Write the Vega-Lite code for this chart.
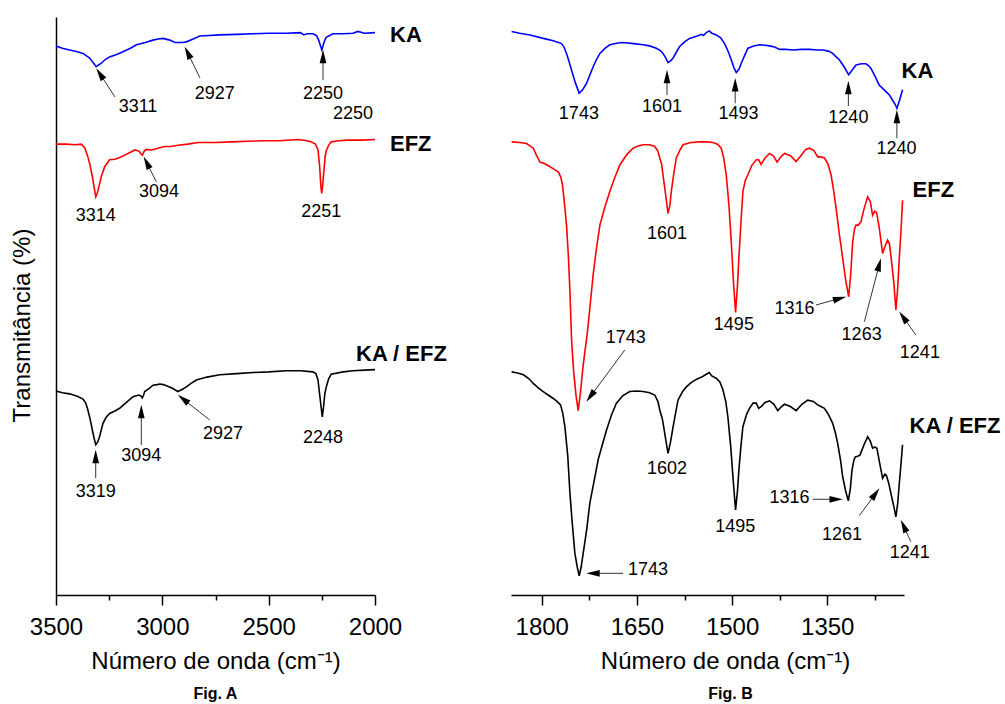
{
  "$schema": "https://vega.github.io/schema/vega-lite/v6.json",
  "autosize": {"type": "pad"},
  "padding": {"left": 10, "top": 17, "right": 0, "bottom": 0},
  "background": "white",
  "config": {
    "view": {"stroke": null},
    "font": "Liberation Sans",
    "axis": {"domainColor": "#000", "tickColor": "#000", "labelColor": "#000", "titleColor": "#000", "domainWidth": 1.5, "tickWidth": 1.5, "grid": false, "labelFont": "Liberation Sans", "titleFont": "Liberation Sans", "titleFontWeight": "normal"},
    "title": {"font": "Liberation Sans", "color": "#000"}
  },
  "spacing": 136,
  "bounds": "flush",
  "datasets": {
    "specA": [
      {"series":"KA","wn":3500,"t":95.0},{"series":"KA","wn":3470,"t":94.6},{"series":"KA","wn":3436,"t":94.3},{"series":"KA","wn":3400,"t":94.0},{"series":"KA","wn":3373,"t":93.7},{"series":"KA","wn":3342,"t":92.9},{"series":"KA","wn":3325,"t":92.1},{"series":"KA","wn":3311,"t":91.4},{"series":"KA","wn":3300,"t":91.7},{"series":"KA","wn":3287,"t":92.0},{"series":"KA","wn":3270,"t":92.6},{"series":"KA","wn":3248,"t":93.1},{"series":"KA","wn":3215,"t":93.5},{"series":"KA","wn":3185,"t":94.0},{"series":"KA","wn":3150,"t":94.6},{"series":"KA","wn":3122,"t":95.2},{"series":"KA","wn":3080,"t":95.6},{"series":"KA","wn":3044,"t":96.0},{"series":"KA","wn":3020,"t":96.2},{"series":"KA","wn":2997,"t":96.3},{"series":"KA","wn":2965,"t":96.0},{"series":"KA","wn":2940,"t":95.6},{"series":"KA","wn":2927,"t":95.6},{"series":"KA","wn":2905,"t":95.6},{"series":"KA","wn":2887,"t":95.7},{"series":"KA","wn":2855,"t":96.2},{"series":"KA","wn":2824,"t":96.7},{"series":"KA","wn":2780,"t":96.8},{"series":"KA","wn":2730,"t":96.9},{"series":"KA","wn":2650,"t":97.0},{"series":"KA","wn":2574,"t":97.1},{"series":"KA","wn":2500,"t":97.2},{"series":"KA","wn":2417,"t":97.2},{"series":"KA","wn":2350,"t":97.3},{"series":"KA","wn":2335,"t":96.9},{"series":"KA","wn":2320,"t":97.1},{"series":"KA","wn":2292,"t":97.1},{"series":"KA","wn":2275,"t":96.8},{"series":"KA","wn":2265,"t":96.0},{"series":"KA","wn":2258,"t":95.2},{"series":"KA","wn":2250,"t":94.3},{"series":"KA","wn":2243,"t":95.2},{"series":"KA","wn":2236,"t":96.0},{"series":"KA","wn":2229,"t":96.5},{"series":"KA","wn":2198,"t":97.1},{"series":"KA","wn":2150,"t":97.1},{"series":"KA","wn":2104,"t":97.2},{"series":"KA","wn":2080,"t":97.5},{"series":"KA","wn":2050,"t":97.2},{"series":"KA","wn":2000,"t":97.3},
      {"series":"EFZ","wn":3500,"t":78.0},{"series":"EFZ","wn":3450,"t":78.0},{"series":"EFZ","wn":3410,"t":77.9},{"series":"EFZ","wn":3381,"t":78.0},{"series":"EFZ","wn":3365,"t":77.4},{"series":"EFZ","wn":3350,"t":75.8},{"series":"EFZ","wn":3340,"t":74.4},{"series":"EFZ","wn":3329,"t":72.4},{"series":"EFZ","wn":3320,"t":70.4},{"series":"EFZ","wn":3313,"t":68.9},{"series":"EFZ","wn":3306,"t":69.5},{"series":"EFZ","wn":3300,"t":70.4},{"series":"EFZ","wn":3287,"t":72.4},{"series":"EFZ","wn":3271,"t":74.1},{"series":"EFZ","wn":3248,"t":75.3},{"series":"EFZ","wn":3224,"t":75.4},{"series":"EFZ","wn":3200,"t":75.7},{"series":"EFZ","wn":3177,"t":76.1},{"series":"EFZ","wn":3150,"t":76.6},{"series":"EFZ","wn":3130,"t":77.0},{"series":"EFZ","wn":3110,"t":76.8},{"series":"EFZ","wn":3100,"t":76.3},{"series":"EFZ","wn":3094,"t":76.1},{"series":"EFZ","wn":3085,"t":76.8},{"series":"EFZ","wn":3075,"t":77.1},{"series":"EFZ","wn":3050,"t":77.0},{"series":"EFZ","wn":3020,"t":77.3},{"series":"EFZ","wn":2989,"t":77.6},{"series":"EFZ","wn":2960,"t":77.6},{"series":"EFZ","wn":2926,"t":77.8},{"series":"EFZ","wn":2880,"t":78.0},{"series":"EFZ","wn":2832,"t":78.3},{"series":"EFZ","wn":2750,"t":78.3},{"series":"EFZ","wn":2676,"t":78.4},{"series":"EFZ","wn":2600,"t":78.5},{"series":"EFZ","wn":2519,"t":78.6},{"series":"EFZ","wn":2450,"t":78.6},{"series":"EFZ","wn":2362,"t":78.8},{"series":"EFZ","wn":2320,"t":78.6},{"series":"EFZ","wn":2300,"t":78.4},{"series":"EFZ","wn":2280,"t":78.0},{"series":"EFZ","wn":2268,"t":77.0},{"series":"EFZ","wn":2260,"t":74.0},{"series":"EFZ","wn":2255,"t":71.0},{"series":"EFZ","wn":2251,"t":69.5},{"series":"EFZ","wn":2247,"t":70.5},{"series":"EFZ","wn":2240,"t":73.5},{"series":"EFZ","wn":2234,"t":76.0},{"series":"EFZ","wn":2229,"t":76.9},{"series":"EFZ","wn":2218,"t":77.8},{"series":"EFZ","wn":2206,"t":78.4},{"series":"EFZ","wn":2170,"t":78.6},{"series":"EFZ","wn":2127,"t":78.7},{"series":"EFZ","wn":2060,"t":78.7},{"series":"EFZ","wn":2000,"t":78.8},
      {"series":"KA / EFZ","wn":3500,"t":35.3},{"series":"KA / EFZ","wn":3470,"t":35.0},{"series":"KA / EFZ","wn":3436,"t":34.8},{"series":"KA / EFZ","wn":3400,"t":34.4},{"series":"KA / EFZ","wn":3373,"t":33.9},{"series":"KA / EFZ","wn":3360,"t":33.2},{"series":"KA / EFZ","wn":3350,"t":32.0},{"series":"KA / EFZ","wn":3340,"t":30.5},{"series":"KA / EFZ","wn":3329,"t":28.5},{"series":"KA / EFZ","wn":3320,"t":27.0},{"series":"KA / EFZ","wn":3313,"t":26.0},{"series":"KA / EFZ","wn":3305,"t":26.4},{"series":"KA / EFZ","wn":3295,"t":27.4},{"series":"KA / EFZ","wn":3287,"t":28.6},{"series":"KA / EFZ","wn":3279,"t":29.7},{"series":"KA / EFZ","wn":3265,"t":30.7},{"series":"KA / EFZ","wn":3248,"t":31.4},{"series":"KA / EFZ","wn":3225,"t":31.8},{"series":"KA / EFZ","wn":3201,"t":32.3},{"series":"KA / EFZ","wn":3170,"t":33.3},{"series":"KA / EFZ","wn":3138,"t":34.3},{"series":"KA / EFZ","wn":3110,"t":34.6},{"series":"KA / EFZ","wn":3100,"t":34.4},{"series":"KA / EFZ","wn":3094,"t":34.1},{"series":"KA / EFZ","wn":3088,"t":34.6},{"series":"KA / EFZ","wn":3083,"t":35.2},{"series":"KA / EFZ","wn":3060,"t":35.8},{"series":"KA / EFZ","wn":3044,"t":36.3},{"series":"KA / EFZ","wn":3025,"t":36.4},{"series":"KA / EFZ","wn":3012,"t":36.5},{"series":"KA / EFZ","wn":2995,"t":36.4},{"series":"KA / EFZ","wn":2981,"t":36.2},{"series":"KA / EFZ","wn":2955,"t":35.8},{"series":"KA / EFZ","wn":2927,"t":35.2},{"series":"KA / EFZ","wn":2905,"t":35.6},{"series":"KA / EFZ","wn":2887,"t":36.0},{"series":"KA / EFZ","wn":2865,"t":36.6},{"series":"KA / EFZ","wn":2840,"t":37.2},{"series":"KA / EFZ","wn":2790,"t":37.7},{"series":"KA / EFZ","wn":2730,"t":38.1},{"series":"KA / EFZ","wn":2650,"t":38.3},{"series":"KA / EFZ","wn":2574,"t":38.5},{"series":"KA / EFZ","wn":2500,"t":38.6},{"series":"KA / EFZ","wn":2417,"t":38.8},{"series":"KA / EFZ","wn":2350,"t":38.8},{"series":"KA / EFZ","wn":2292,"t":38.6},{"series":"KA / EFZ","wn":2278,"t":38.3},{"series":"KA / EFZ","wn":2268,"t":37.2},{"series":"KA / EFZ","wn":2258,"t":34.0},{"series":"KA / EFZ","wn":2248,"t":30.8},{"series":"KA / EFZ","wn":2242,"t":32.5},{"series":"KA / EFZ","wn":2236,"t":34.8},{"series":"KA / EFZ","wn":2229,"t":36.0},{"series":"KA / EFZ","wn":2218,"t":37.4},{"series":"KA / EFZ","wn":2206,"t":38.2},{"series":"KA / EFZ","wn":2150,"t":38.6},{"series":"KA / EFZ","wn":2104,"t":38.8},{"series":"KA / EFZ","wn":2050,"t":38.9},{"series":"KA / EFZ","wn":2000,"t":39.0}
    ],
    "specB": [
      {"series":"KA","wn":1847.5,"t":97.5},{"series":"KA","wn":1835,"t":97.2},{"series":"KA","wn":1818.6,"t":96.9},{"series":"KA","wn":1797.7,"t":96.3},{"series":"KA","wn":1781.9,"t":95.9},{"series":"KA","wn":1768.8,"t":95.4},{"series":"KA","wn":1765,"t":94.8},{"series":"KA","wn":1761,"t":93.7},{"series":"KA","wn":1757,"t":92.3},{"series":"KA","wn":1753,"t":90.8},{"series":"KA","wn":1747,"t":88.6},{"series":"KA","wn":1741,"t":86.8},{"series":"KA","wn":1735,"t":87.5},{"series":"KA","wn":1729.5,"t":88.5},{"series":"KA","wn":1724,"t":90.0},{"series":"KA","wn":1719,"t":91.4},{"series":"KA","wn":1714,"t":92.6},{"series":"KA","wn":1708.4,"t":93.7},{"series":"KA","wn":1700,"t":94.6},{"series":"KA","wn":1692.7,"t":95.2},{"series":"KA","wn":1680,"t":95.5},{"series":"KA","wn":1671.8,"t":95.6},{"series":"KA","wn":1655,"t":95.4},{"series":"KA","wn":1640.3,"t":95.2},{"series":"KA","wn":1630,"t":95.0},{"series":"KA","wn":1619.4,"t":94.6},{"series":"KA","wn":1613,"t":94.2},{"series":"KA","wn":1608.9,"t":93.7},{"series":"KA","wn":1604,"t":92.8},{"series":"KA","wn":1601,"t":92.1},{"series":"KA","wn":1597,"t":92.4},{"series":"KA","wn":1593,"t":92.9},{"series":"KA","wn":1588,"t":93.9},{"series":"KA","wn":1582.6,"t":94.9},{"series":"KA","wn":1575,"t":95.7},{"series":"KA","wn":1566.9,"t":96.3},{"series":"KA","wn":1555,"t":96.7},{"series":"KA","wn":1548,"t":97.0},{"series":"KA","wn":1545,"t":96.8},{"series":"KA","wn":1540.7,"t":97.3},{"series":"KA","wn":1536,"t":97.6},{"series":"KA","wn":1532,"t":97.2},{"series":"KA","wn":1525,"t":96.9},{"series":"KA","wn":1518,"t":96.4},{"series":"KA","wn":1511.8,"t":95.4},{"series":"KA","wn":1506,"t":94.0},{"series":"KA","wn":1501.3,"t":92.6},{"series":"KA","wn":1497,"t":91.2},{"series":"KA","wn":1493.4,"t":90.4},{"series":"KA","wn":1489,"t":91.0},{"series":"KA","wn":1485.5,"t":92.0},{"series":"KA","wn":1480,"t":93.4},{"series":"KA","wn":1475,"t":94.6},{"series":"KA","wn":1466,"t":95.0},{"series":"KA","wn":1456.7,"t":95.2},{"series":"KA","wn":1448,"t":95.1},{"series":"KA","wn":1441,"t":95.0},{"series":"KA","wn":1433,"t":94.8},{"series":"KA","wn":1425.2,"t":94.4},{"series":"KA","wn":1415,"t":94.4},{"series":"KA","wn":1404.3,"t":94.3},{"series":"KA","wn":1390,"t":94.4},{"series":"KA","wn":1378,"t":94.4},{"series":"KA","wn":1365,"t":94.3},{"series":"KA","wn":1357.1,"t":94.3},{"series":"KA","wn":1348,"t":94.1},{"series":"KA","wn":1341.4,"t":93.7},{"series":"KA","wn":1336,"t":93.1},{"series":"KA","wn":1330.9,"t":92.6},{"series":"KA","wn":1323,"t":91.3},{"series":"KA","wn":1316.2,"t":90.0},{"series":"KA","wn":1310,"t":90.9},{"series":"KA","wn":1304.7,"t":91.7},{"series":"KA","wn":1296,"t":91.9},{"series":"KA","wn":1289,"t":91.9},{"series":"KA","wn":1285,"t":91.6},{"series":"KA","wn":1281,"t":91.1},{"series":"KA","wn":1275,"t":89.8},{"series":"KA","wn":1268,"t":88.2},{"series":"KA","wn":1263,"t":87.7},{"series":"KA","wn":1257.5,"t":87.1},{"series":"KA","wn":1252,"t":86.5},{"series":"KA","wn":1247,"t":85.6},{"series":"KA","wn":1243,"t":84.9},{"series":"KA","wn":1240.2,"t":84.2},{"series":"KA","wn":1236,"t":85.6},{"series":"KA","wn":1231.3,"t":87.4},
      {"series":"EFZ","wn":1847.5,"t":78.4},{"series":"EFZ","wn":1835,"t":78.3},{"series":"EFZ","wn":1824,"t":78.1},{"series":"EFZ","wn":1813.4,"t":77.3},{"series":"EFZ","wn":1808,"t":76.0},{"series":"EFZ","wn":1802.8,"t":74.9},{"series":"EFZ","wn":1795,"t":74.6},{"series":"EFZ","wn":1787,"t":74.1},{"series":"EFZ","wn":1780,"t":73.6},{"series":"EFZ","wn":1774,"t":73.2},{"series":"EFZ","wn":1770,"t":72.3},{"series":"EFZ","wn":1767.3,"t":70.9},{"series":"EFZ","wn":1764,"t":67.5},{"series":"EFZ","wn":1761,"t":64.0},{"series":"EFZ","wn":1758,"t":58.5},{"series":"EFZ","wn":1755.6,"t":52.5},{"series":"EFZ","wn":1753,"t":44.1},{"series":"EFZ","wn":1750,"t":39.0},{"series":"EFZ","wn":1746,"t":34.5},{"series":"EFZ","wn":1742.6,"t":31.9},{"series":"EFZ","wn":1739,"t":35.0},{"series":"EFZ","wn":1735,"t":39.5},{"series":"EFZ","wn":1731,"t":43.0},{"series":"EFZ","wn":1729.5,"t":44.1},{"series":"EFZ","wn":1726.9,"t":46.7},{"series":"EFZ","wn":1723,"t":51.0},{"series":"EFZ","wn":1719,"t":55.4},{"series":"EFZ","wn":1714,"t":59.8},{"series":"EFZ","wn":1708.4,"t":64.0},{"series":"EFZ","wn":1700,"t":67.3},{"series":"EFZ","wn":1692.7,"t":69.8},{"series":"EFZ","wn":1685,"t":72.2},{"series":"EFZ","wn":1677,"t":74.4},{"series":"EFZ","wn":1666,"t":76.2},{"series":"EFZ","wn":1656,"t":77.3},{"series":"EFZ","wn":1648,"t":77.7},{"series":"EFZ","wn":1640.3,"t":77.9},{"series":"EFZ","wn":1630,"t":77.9},{"series":"EFZ","wn":1621.9,"t":77.6},{"series":"EFZ","wn":1617,"t":76.8},{"series":"EFZ","wn":1614,"t":75.6},{"series":"EFZ","wn":1611,"t":74.5},{"series":"EFZ","wn":1608.9,"t":72.7},{"series":"EFZ","wn":1605,"t":69.5},{"series":"EFZ","wn":1601,"t":66.0},{"series":"EFZ","wn":1598,"t":67.5},{"series":"EFZ","wn":1595.8,"t":69.8},{"series":"EFZ","wn":1592,"t":72.8},{"series":"EFZ","wn":1588,"t":75.6},{"series":"EFZ","wn":1582,"t":77.0},{"series":"EFZ","wn":1577.4,"t":77.9},{"series":"EFZ","wn":1565,"t":78.3},{"series":"EFZ","wn":1551.2,"t":78.4},{"series":"EFZ","wn":1540,"t":78.4},{"series":"EFZ","wn":1530.2,"t":78.3},{"series":"EFZ","wn":1523,"t":78.0},{"series":"EFZ","wn":1517.1,"t":77.3},{"series":"EFZ","wn":1513,"t":75.5},{"series":"EFZ","wn":1509.2,"t":72.7},{"series":"EFZ","wn":1505,"t":67.5},{"series":"EFZ","wn":1501.3,"t":61.1},{"series":"EFZ","wn":1498,"t":54.5},{"series":"EFZ","wn":1494.5,"t":48.9},{"series":"EFZ","wn":1491.5,"t":53.5},{"series":"EFZ","wn":1489.3,"t":58.3},{"series":"EFZ","wn":1486,"t":64.5},{"series":"EFZ","wn":1483,"t":69.8},{"series":"EFZ","wn":1479,"t":71.8},{"series":"EFZ","wn":1475,"t":72.7},{"series":"EFZ","wn":1469,"t":74.3},{"series":"EFZ","wn":1462,"t":75.3},{"series":"EFZ","wn":1458,"t":75.3},{"series":"EFZ","wn":1454.2,"t":74.5},{"series":"EFZ","wn":1448,"t":75.6},{"series":"EFZ","wn":1441,"t":76.4},{"series":"EFZ","wn":1435,"t":76.0},{"series":"EFZ","wn":1429,"t":74.9},{"series":"EFZ","wn":1423,"t":75.8},{"series":"EFZ","wn":1417.4,"t":76.4},{"series":"EFZ","wn":1408,"t":76.0},{"series":"EFZ","wn":1399,"t":75.0},{"series":"EFZ","wn":1390,"t":76.2},{"series":"EFZ","wn":1384,"t":77.1},{"series":"EFZ","wn":1378,"t":77.3},{"series":"EFZ","wn":1371,"t":76.9},{"series":"EFZ","wn":1365,"t":75.8},{"series":"EFZ","wn":1360,"t":75.8},{"series":"EFZ","wn":1354.5,"t":75.6},{"series":"EFZ","wn":1349,"t":74.6},{"series":"EFZ","wn":1344,"t":72.7},{"series":"EFZ","wn":1340,"t":70.0},{"series":"EFZ","wn":1336,"t":66.9},{"series":"EFZ","wn":1331,"t":62.5},{"series":"EFZ","wn":1325.7,"t":58.3},{"series":"EFZ","wn":1321,"t":54.5},{"series":"EFZ","wn":1316.2,"t":51.6},{"series":"EFZ","wn":1313,"t":55.5},{"series":"EFZ","wn":1309.9,"t":61.1},{"series":"EFZ","wn":1307,"t":63.3},{"series":"EFZ","wn":1304.7,"t":64.0},{"series":"EFZ","wn":1301,"t":64.0},{"series":"EFZ","wn":1296.8,"t":64.6},{"series":"EFZ","wn":1292,"t":66.8},{"series":"EFZ","wn":1286.3,"t":68.9},{"series":"EFZ","wn":1282,"t":68.0},{"series":"EFZ","wn":1278.5,"t":65.7},{"series":"EFZ","wn":1275,"t":66.4},{"series":"EFZ","wn":1272.2,"t":66.2},{"series":"EFZ","wn":1268,"t":63.5},{"series":"EFZ","wn":1262.7,"t":59.1},{"series":"EFZ","wn":1259,"t":60.3},{"series":"EFZ","wn":1255,"t":61.4},{"series":"EFZ","wn":1252,"t":60.8},{"series":"EFZ","wn":1249.7,"t":58.8},{"series":"EFZ","wn":1245,"t":54.0},{"series":"EFZ","wn":1241.8,"t":49.3},{"series":"EFZ","wn":1239,"t":53.0},{"series":"EFZ","wn":1236.4,"t":58.3},{"series":"EFZ","wn":1233.5,"t":63.5},{"series":"EFZ","wn":1231.3,"t":68.3},
      {"series":"KA / EFZ","wn":1847.5,"t":38.6},{"series":"KA / EFZ","wn":1838,"t":38.4},{"series":"KA / EFZ","wn":1829,"t":38.1},{"series":"KA / EFZ","wn":1820,"t":37.4},{"series":"KA / EFZ","wn":1813.4,"t":36.6},{"series":"KA / EFZ","wn":1805,"t":35.8},{"series":"KA / EFZ","wn":1797.7,"t":35.2},{"series":"KA / EFZ","wn":1790,"t":34.6},{"series":"KA / EFZ","wn":1781.9,"t":34.0},{"series":"KA / EFZ","wn":1776,"t":33.5},{"series":"KA / EFZ","wn":1770.4,"t":32.9},{"series":"KA / EFZ","wn":1767,"t":31.5},{"series":"KA / EFZ","wn":1763.5,"t":29.1},{"series":"KA / EFZ","wn":1759,"t":24.0},{"series":"KA / EFZ","wn":1755.6,"t":17.6},{"series":"KA / EFZ","wn":1752,"t":12.5},{"series":"KA / EFZ","wn":1747.8,"t":7.2},{"series":"KA / EFZ","wn":1744,"t":4.8},{"series":"KA / EFZ","wn":1741,"t":3.3},{"series":"KA / EFZ","wn":1738,"t":4.8},{"series":"KA / EFZ","wn":1734.7,"t":7.2},{"series":"KA / EFZ","wn":1729,"t":11.5},{"series":"KA / EFZ","wn":1724.2,"t":15.9},{"series":"KA / EFZ","wn":1717,"t":20.0},{"series":"KA / EFZ","wn":1711.1,"t":23.4},{"series":"KA / EFZ","wn":1704,"t":26.2},{"series":"KA / EFZ","wn":1698,"t":28.5},{"series":"KA / EFZ","wn":1690,"t":31.2},{"series":"KA / EFZ","wn":1682.3,"t":33.2},{"series":"KA / EFZ","wn":1672,"t":34.5},{"series":"KA / EFZ","wn":1661.3,"t":35.2},{"series":"KA / EFZ","wn":1650,"t":35.3},{"series":"KA / EFZ","wn":1640.3,"t":35.2},{"series":"KA / EFZ","wn":1630,"t":35.0},{"series":"KA / EFZ","wn":1621.9,"t":34.6},{"series":"KA / EFZ","wn":1617,"t":33.5},{"series":"KA / EFZ","wn":1614,"t":32.0},{"series":"KA / EFZ","wn":1610,"t":30.5},{"series":"KA / EFZ","wn":1607.8,"t":29.1},{"series":"KA / EFZ","wn":1604,"t":26.5},{"series":"KA / EFZ","wn":1601,"t":24.5},{"series":"KA / EFZ","wn":1597,"t":26.5},{"series":"KA / EFZ","wn":1593,"t":29.1},{"series":"KA / EFZ","wn":1589,"t":31.5},{"series":"KA / EFZ","wn":1585.3,"t":33.7},{"series":"KA / EFZ","wn":1578,"t":35.2},{"series":"KA / EFZ","wn":1572.2,"t":36.0},{"series":"KA / EFZ","wn":1564,"t":36.8},{"series":"KA / EFZ","wn":1556.5,"t":37.3},{"series":"KA / EFZ","wn":1548,"t":37.7},{"series":"KA / EFZ","wn":1540.7,"t":38.2},{"series":"KA / EFZ","wn":1536,"t":38.5},{"series":"KA / EFZ","wn":1532,"t":37.9},{"series":"KA / EFZ","wn":1525,"t":37.5},{"series":"KA / EFZ","wn":1519,"t":36.8},{"series":"KA / EFZ","wn":1514.5,"t":35.5},{"series":"KA / EFZ","wn":1510,"t":33.5},{"series":"KA / EFZ","wn":1506.6,"t":30.8},{"series":"KA / EFZ","wn":1502,"t":25.5},{"series":"KA / EFZ","wn":1498.7,"t":20.5},{"series":"KA / EFZ","wn":1494.5,"t":14.7},{"series":"KA / EFZ","wn":1491.5,"t":18.0},{"series":"KA / EFZ","wn":1489.3,"t":21.6},{"series":"KA / EFZ","wn":1486,"t":25.8},{"series":"KA / EFZ","wn":1483,"t":29.1},{"series":"KA / EFZ","wn":1477,"t":31.3},{"series":"KA / EFZ","wn":1472.5,"t":32.3},{"series":"KA / EFZ","wn":1467,"t":33.2},{"series":"KA / EFZ","wn":1462,"t":33.2},{"series":"KA / EFZ","wn":1458,"t":32.3},{"series":"KA / EFZ","wn":1454.2,"t":32.6},{"series":"KA / EFZ","wn":1448,"t":33.3},{"series":"KA / EFZ","wn":1441,"t":33.6},{"series":"KA / EFZ","wn":1434,"t":33.0},{"series":"KA / EFZ","wn":1428,"t":31.9},{"series":"KA / EFZ","wn":1422,"t":32.6},{"series":"KA / EFZ","wn":1417.4,"t":33.0},{"series":"KA / EFZ","wn":1408,"t":32.6},{"series":"KA / EFZ","wn":1399,"t":31.9},{"series":"KA / EFZ","wn":1390,"t":33.0},{"series":"KA / EFZ","wn":1380.7,"t":33.7},{"series":"KA / EFZ","wn":1372,"t":33.5},{"series":"KA / EFZ","wn":1365,"t":32.9},{"series":"KA / EFZ","wn":1360,"t":32.6},{"series":"KA / EFZ","wn":1354.5,"t":32.3},{"series":"KA / EFZ","wn":1348,"t":31.2},{"series":"KA / EFZ","wn":1341.4,"t":29.7},{"series":"KA / EFZ","wn":1337,"t":28.0},{"series":"KA / EFZ","wn":1333.5,"t":26.2},{"series":"KA / EFZ","wn":1329,"t":23.3},{"series":"KA / EFZ","wn":1325.7,"t":20.5},{"series":"KA / EFZ","wn":1321,"t":18.0},{"series":"KA / EFZ","wn":1316.7,"t":16.3},{"series":"KA / EFZ","wn":1313.5,"t":18.5},{"series":"KA / EFZ","wn":1311,"t":21.6},{"series":"KA / EFZ","wn":1308,"t":23.3},{"series":"KA / EFZ","wn":1305.8,"t":23.9},{"series":"KA / EFZ","wn":1302,"t":24.0},{"series":"KA / EFZ","wn":1298.4,"t":24.2},{"series":"KA / EFZ","wn":1292,"t":26.0},{"series":"KA / EFZ","wn":1286.3,"t":27.4},{"series":"KA / EFZ","wn":1282,"t":26.6},{"series":"KA / EFZ","wn":1278.5,"t":25.4},{"series":"KA / EFZ","wn":1275,"t":25.6},{"series":"KA / EFZ","wn":1271.7,"t":25.4},{"series":"KA / EFZ","wn":1267,"t":22.6},{"series":"KA / EFZ","wn":1262.7,"t":20.2},{"series":"KA / EFZ","wn":1259,"t":20.9},{"series":"KA / EFZ","wn":1256.4,"t":20.6},{"series":"KA / EFZ","wn":1253,"t":19.3},{"series":"KA / EFZ","wn":1249.7,"t":17.6},{"series":"KA / EFZ","wn":1245,"t":15.3},{"series":"KA / EFZ","wn":1241.8,"t":13.5},{"series":"KA / EFZ","wn":1239,"t":15.8},{"series":"KA / EFZ","wn":1236.4,"t":19.3},{"series":"KA / EFZ","wn":1233.5,"t":23.0},{"series":"KA / EFZ","wn":1231.3,"t":26.0}
    ],
    "labA": [
      {"wn":3114.4,"t":84.4,"label":"3311"},{"wn":2753.8,"t":86.7,"label":"2927"},{"wn":2244.5,"t":86.7,"label":"2250"},{"wn":2103.5,"t":83.2,"label":"2250"},
      {"wn":3313.3,"t":65.6,"label":"3314"},{"wn":3015.7,"t":69.7,"label":"3094"},{"wn":2252.5,"t":66.3,"label":"2251"},
      {"wn":3313.3,"t":17.9,"label":"3319"},{"wn":3098.9,"t":24.0,"label":"3094"},{"wn":2714.7,"t":27.8,"label":"2927"},{"wn":2244.5,"t":27.1,"label":"2248"}
    ],
    "arrA": [
      {"x0":3222.6,"y0":86.16,"x1":3293.8,"y1":90.18,"angle":-33.1},
      {"x0":2822.9,"y0":89.45,"x1":2881.4,"y1":93.85,"angle":-26.1},
      {"x0":2244.5,"y0":89.1,"x1":2244.5,"y1":93.17,"angle":0},
      {"x0":3028.4,"y0":71.5,"x1":3073.8,"y1":74.83,"angle":-26.7},
      {"x0":3313.3,"y0":20.19,"x1":3313.3,"y1":23.96,"angle":0},
      {"x0":3098.9,"y0":25.95,"x1":3098.9,"y1":31.75,"angle":0},
      {"x0":2777.3,"y0":30.28,"x1":2902.4,"y1":33.91,"angle":-51.7}
    ],
    "serA": [
      {"wn":1929.5,"t":96.9,"label":"KA"},{"wn":1929.5,"t":78.0,"label":"EFZ"},{"wn":2089.4,"t":41.7,"label":"KA / EFZ"}
    ],
    "labB": [
      {"wn":1741.5,"t":83.2,"label":"1743"},{"wn":1610.4,"t":84.5,"label":"1601"},{"wn":1489.8,"t":83.2,"label":"1493"},{"wn":1316.7,"t":82.6,"label":"1240"},{"wn":1240.7,"t":77.1,"label":"1240"},
      {"wn":1602.6,"t":62.4,"label":"1601"},{"wn":1497.2,"t":46.7,"label":"1495"},{"wn":1401.6,"t":49.4,"label":"1316"},{"wn":1295.8,"t":45.0,"label":"1263"},{"wn":1204,"t":41.8,"label":"1241"},{"wn":1667.5,"t":44.4,"label":"1743"},
      {"wn":1602.6,"t":21.8,"label":"1602"},{"wn":1495.1,"t":11.8,"label":"1495"},{"wn":1409.5,"t":16.7,"label":"1316"},{"wn":1326.8,"t":10.3,"label":"1261"},{"wn":1219.8,"t":7.2,"label":"1241"},{"wn":1632.5,"t":4.3,"label":"1743"}
    ],
    "arrB": [
      {"x0":1602.6,"y0":86.51,"x1":1602.6,"y1":89.71,"angle":0},
      {"x0":1495.1,"y0":85.07,"x1":1495.1,"y1":88.27,"angle":0},
      {"x0":1316.7,"y0":84.6,"x1":1316.7,"y1":87.8,"angle":0},
      {"x0":1240.2,"y0":79.01,"x1":1240.2,"y1":82.79,"angle":0},
      {"x0":1367.7,"y0":50.17,"x1":1330.3,"y1":51.31,"angle":74.5},
      {"x0":1291.5,"y0":47.28,"x1":1268.0,"y1":57.16,"angle":14.7},
      {"x0":1210.3,"y0":44.98,"x1":1230.5,"y1":48.1,"angle":-35.5},
      {"x0":1669.1,"y0":42.39,"x1":1723.4,"y1":34.35,"angle":-143.4},
      {"x0":1372.9,"y0":16.56,"x1":1335.9,"y1":16.56,"angle":90},
      {"x0":1299.4,"y0":13.72,"x1":1273.9,"y1":17.55,"angle":36.1},
      {"x0":1218.2,"y0":9.22,"x1":1229.7,"y1":11.95,"angle":-24.8},
      {"x0":1671.8,"y0":3.75,"x1":1719.3,"y1":3.75,"angle":-90}
    ],
    "serB": [
      {"wn":1232.8,"t":90.7,"label":"KA"},{"wn":1215.5,"t":70.1,"label":"EFZ"},{"wn":1220.2,"t":29.2,"label":"KA / EFZ"}
    ]
  },
  "hconcat": [
    {
      "width": 319,
      "height": 578,
      "title": {"text": "Fig. A", "orient": "bottom", "fontSize": 16, "fontWeight": "bold", "anchor": "middle", "offset": 13},
      "layer": [
        {
          "data": {"name": "specA"},
          "mark": {"type": "line", "strokeWidth": 1.6},
          "encoding": {
            "x": {"field": "wn", "type": "quantitative", "scale": {"domain": [2000, 3500], "reverse": true, "nice": false, "zero": false},
              "axis": {"title": "Número de onda (cm⁻¹)", "values": [3500, 3250, 3000, 2750, 2500, 2250, 2000], "format": "d", "labelExpr": "datum.value % 500 === 0 ? datum.label : ''", "tickSize": {"condition": {"test": "datum.value % 500 === 0", "value": 10}, "value": 5}, "labelFontSize": 24, "titleFontSize": 24, "labelPadding": 10, "titlePadding": 10, "labelFlush": false, "labelOverlap": false}},
            "y": {"field": "t", "type": "quantitative", "scale": {"domain": [0, 100], "nice": false, "zero": false},
              "axis": {"title": "Transmitância (%)", "ticks": false, "labels": false, "domain": true, "titleFontSize": 24, "titlePadding": 22, "titleY": 308}},
            "color": {"field": "series", "type": "nominal", "scale": {"domain": ["KA", "EFZ", "KA / EFZ"], "range": ["#0000ff", "#ff0000", "#000000"]}, "legend": null}
          }
        },
        {
          "data": {"name": "arrA"},
          "mark": {"type": "rule", "color": "#333333", "strokeWidth": 1},
          "encoding": {
            "x": {"field": "x0", "type": "quantitative", "scale": {"domain": [2000, 3500], "reverse": true, "nice": false, "zero": false}},
            "y": {"field": "y0", "type": "quantitative", "scale": {"domain": [0, 100], "nice": false, "zero": false}},
            "x2": {"field": "x1"},
            "y2": {"field": "y1"}
          }
        },
        {
          "data": {"name": "arrA"},
          "mark": {"type": "point", "shape": "M0,-1L0.5,1L-0.5,1Z", "filled": true, "color": "#000000", "opacity": 1, "size": 180},
          "encoding": {
            "x": {"field": "x1", "type": "quantitative", "scale": {"domain": [2000, 3500], "reverse": true, "nice": false, "zero": false}},
            "y": {"field": "y1", "type": "quantitative", "scale": {"domain": [0, 100], "nice": false, "zero": false}},
            "angle": {"field": "angle", "type": "quantitative", "scale": null}
          }
        },
        {
          "data": {"name": "labA"},
          "mark": {"type": "text", "fontSize": 18, "color": "#000000", "align": "center", "baseline": "middle"},
          "encoding": {
            "x": {"field": "wn", "type": "quantitative", "scale": {"domain": [2000, 3500], "reverse": true, "nice": false, "zero": false}},
            "y": {"field": "t", "type": "quantitative", "scale": {"domain": [0, 100], "nice": false, "zero": false}},
            "text": {"field": "label"}
          }
        },
        {
          "data": {"name": "serA"},
          "mark": {"type": "text", "fontSize": 22, "fontWeight": "bold", "color": "#000000", "align": "left", "baseline": "middle"},
          "encoding": {
            "x": {"field": "wn", "type": "quantitative", "scale": {"domain": [2000, 3500], "reverse": true, "nice": false, "zero": false}},
            "y": {"field": "t", "type": "quantitative", "scale": {"domain": [0, 100], "nice": false, "zero": false}},
            "text": {"field": "label"}
          }
        }
      ]
    },
    {
      "width": 393,
      "height": 578,
      "title": {"text": "Fig. B", "orient": "bottom", "fontSize": 16, "fontWeight": "bold", "anchor": "middle", "offset": 13, "dx": 23},
      "layer": [
        {
          "data": {"name": "specB"},
          "mark": {"type": "line", "strokeWidth": 1.6},
          "encoding": {
            "x": {"field": "wn", "type": "quantitative", "scale": {"domain": [1229, 1848.5], "reverse": true, "nice": false, "zero": false},
              "axis": {"title": "Número de onda (cm⁻¹)", "values": [1800, 1725, 1650, 1575, 1500, 1425, 1350, 1275], "format": "d", "labelExpr": "datum.value % 150 === 0 ? datum.label : ''", "tickSize": {"condition": {"test": "datum.value % 150 === 0", "value": 10}, "value": 5}, "labelFontSize": 24, "titleFontSize": 24, "labelPadding": 10, "titlePadding": 10, "labelFlush": false, "labelOverlap": false, "titleX": 214}},
            "y": {"field": "t", "type": "quantitative", "scale": {"domain": [0, 100], "nice": false, "zero": false}, "axis": null},
            "color": {"field": "series", "type": "nominal", "scale": {"domain": ["KA", "EFZ", "KA / EFZ"], "range": ["#0000ff", "#ff0000", "#000000"]}, "legend": null}
          }
        },
        {
          "data": {"name": "arrB"},
          "mark": {"type": "rule", "color": "#333333", "strokeWidth": 1},
          "encoding": {
            "x": {"field": "x0", "type": "quantitative", "scale": {"domain": [1229, 1848.5], "reverse": true, "nice": false, "zero": false}},
            "y": {"field": "y0", "type": "quantitative", "scale": {"domain": [0, 100], "nice": false, "zero": false}},
            "x2": {"field": "x1"},
            "y2": {"field": "y1"}
          }
        },
        {
          "data": {"name": "arrB"},
          "mark": {"type": "point", "shape": "M0,-1L0.5,1L-0.5,1Z", "filled": true, "color": "#000000", "opacity": 1, "size": 180},
          "encoding": {
            "x": {"field": "x1", "type": "quantitative", "scale": {"domain": [1229, 1848.5], "reverse": true, "nice": false, "zero": false}},
            "y": {"field": "y1", "type": "quantitative", "scale": {"domain": [0, 100], "nice": false, "zero": false}},
            "angle": {"field": "angle", "type": "quantitative", "scale": null}
          }
        },
        {
          "data": {"name": "labB"},
          "mark": {"type": "text", "fontSize": 18, "color": "#000000", "align": "center", "baseline": "middle"},
          "encoding": {
            "x": {"field": "wn", "type": "quantitative", "scale": {"domain": [1229, 1848.5], "reverse": true, "nice": false, "zero": false}},
            "y": {"field": "t", "type": "quantitative", "scale": {"domain": [0, 100], "nice": false, "zero": false}},
            "text": {"field": "label"}
          }
        },
        {
          "data": {"name": "serB"},
          "mark": {"type": "text", "fontSize": 22, "fontWeight": "bold", "color": "#000000", "align": "left", "baseline": "middle"},
          "encoding": {
            "x": {"field": "wn", "type": "quantitative", "scale": {"domain": [1229, 1848.5], "reverse": true, "nice": false, "zero": false}},
            "y": {"field": "t", "type": "quantitative", "scale": {"domain": [0, 100], "nice": false, "zero": false}},
            "text": {"field": "label"}
          }
        }
      ]
    }
  ]
}
